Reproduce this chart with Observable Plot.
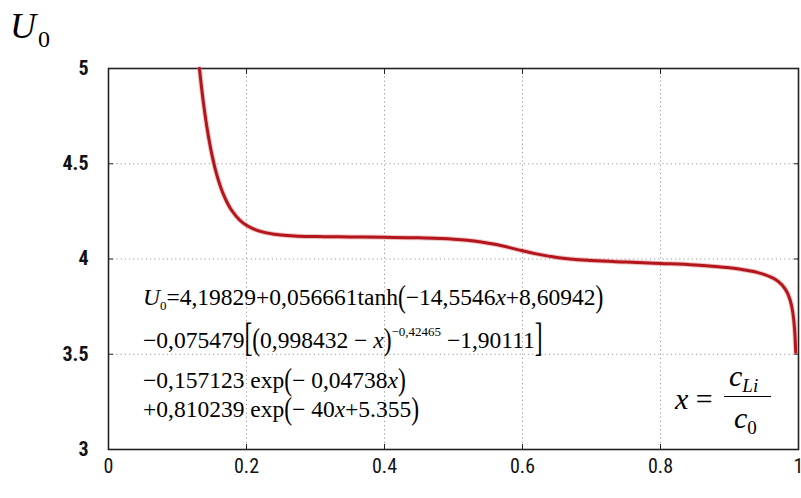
<!DOCTYPE html>
<html>
<head>
<meta charset="utf-8">
<script src="https://cdn.jsdelivr.net/npm/d3@7"></script>
<script src="https://cdn.jsdelivr.net/npm/@observablehq/plot@0.6"></script>
<style>
  body { margin: 0; background: #fff; }
  #wrap { position: relative; width: 801px; height: 498px; background: #fff; overflow: hidden; }
  #wrap svg { position: absolute; left: 0; top: 0; }
  .ann { position: absolute; font-family: "Liberation Serif", "Times New Roman", serif; color: #000; white-space: nowrap; line-height: 1; }
  .ann i { font-style: italic; }
  .p { display: inline-block; transform: scaleY(1.35); transform-origin: 50% 60%; }
  .bk { display: inline-block; transform: scaleY(1.7); transform-origin: 50% 60%; }
  .sub { font-size: 13px; position: relative; top: 5px; }
  .sup { font-size: 13px; position: relative; top: -12px; }
</style>
</head>
<body>
<div id="wrap"></div>
<script>
// Open-circuit potential U0 against the lithium fraction x = cLi / c0
const fraction = [0.1318, 0.135, 0.14, 0.145, 0.15, 0.155, 0.16, 0.165, 0.17, 0.175, 0.18, 0.19, 0.2, 0.21, 0.22, 0.24, 0.25, 0.27, 0.3, 0.35, 0.4, 0.45, 0.5, 0.52, 0.54, 0.56, 0.58, 0.6, 0.62, 0.65, 0.7, 0.75, 0.8, 0.85, 0.9, 0.92, 0.94, 0.95, 0.96, 0.97, 0.98, 0.985, 0.99, 0.993, 0.995, 0.996];
const potential = [5.000, 4.895, 4.755, 4.640, 4.545, 4.468, 4.405, 4.353, 4.311, 4.276, 4.248, 4.205, 4.177, 4.158, 4.145, 4.130, 4.126, 4.121, 4.118, 4.116, 4.114, 4.111, 4.104, 4.098, 4.089, 4.077, 4.061, 4.043, 4.027, 4.008, 3.992, 3.984, 3.977, 3.969, 3.954, 3.944, 3.930, 3.919, 3.905, 3.884, 3.846, 3.813, 3.754, 3.684, 3.593, 3.510];
const xTicks = [0, 0.2, 0.4, 0.6, 0.8, 1];
const yTicks = [3, 3.5, 4, 4.5, 5];
const xGrid = [0.2, 0.4, 0.6, 0.8];
const yGrid = [3.5, 4, 4.5];

const curve = fraction.map((x, i) => ({x, u: potential[i]}));

const chart = Plot.plot({
  width: 801,
  height: 498,
  marginLeft: 108,
  marginRight: 3,
  marginTop: 68,
  marginBottom: 49,
  style: {fontFamily: "'Roboto Condensed', 'Liberation Sans', sans-serif", fontSize: "20px", background: "transparent"},
  x: {domain: [0, 1]},
  y: {domain: [3, 5]},
  marks: [
    Plot.gridX(xGrid, {stroke: "#9a9a9a", strokeOpacity: 1, strokeDasharray: "1.2,3"}),
    Plot.gridY(yGrid, {stroke: "#9a9a9a", strokeOpacity: 1, strokeDasharray: "1.2,3"}),
    // tick labels
    Plot.axisX(xTicks, {label: null, tickSize: 0, tickPadding: 9, tickFormat: d => String(d), fill: "#111"}),
    Plot.axisY(yTicks, {label: null, tickSize: 0, tickPadding: 20, tickFormat: d => String(d), fill: "#111", fontWeight: "bold"}),
    // inward tick marks on all four sides
    Plot.axisX(xTicks, {label: null, anchor: "bottom", tickSize: 5, dy: -5, text: null, stroke: "#222"}),
    Plot.axisX(xTicks, {label: null, anchor: "top", tickSize: 5, dy: 5, text: null, stroke: "#222"}),
    Plot.axisY(yTicks, {label: null, anchor: "left", tickSize: 5, dx: 5, text: null, stroke: "#222"}),
    Plot.axisY(yTicks, {label: null, anchor: "right", tickSize: 5, dx: -5, text: null, stroke: "#222"}),
    Plot.frame({stroke: "#222", strokeWidth: 1.6}),
    // curve with a soft halo
    Plot.line(curve, {x: "x", y: "u", curve: "monotone-x", stroke: "#e07a7a", strokeWidth: 5, strokeOpacity: 0.45}),
    Plot.line(curve, {x: "x", y: "u", curve: "monotone-x", stroke: "#b3161c", strokeWidth: 3})
  ]
});

const wrap = document.getElementById("wrap");
wrap.appendChild(chart);

wrap.insertAdjacentHTML("beforeend", `
  <div class="ann" style="left:10px;top:8px;font-size:36px"><i>U</i><span style="font-size:24px;position:relative;top:9px;left:2px">0</span></div>
  <div class="ann" style="left:143px;top:286px;font-size:23.5px"><i>U</i><span class="sub">0</span>=4,19829+0,056661tanh<span class="p">(</span>−14,5546<i>x</i>+8,60942<span class="p">)</span></div>
  <div class="ann" style="left:143px;top:329px;font-size:23.5px">−0,075479<span class="bk">[</span><span class="p">(</span>0,998432 − <i>x</i><span class="p">)</span><span class="sup">−0,42465</span> −1,90111<span class="bk">]</span></div>
  <div class="ann" style="left:143px;top:369px;font-size:23.5px">−0,157123 exp<span class="p">(</span>− 0,04738<i>x</i><span class="p">)</span></div>
  <div class="ann" style="left:143px;top:398px;font-size:23.5px">+0,810239 exp<span class="p">(</span>− 40<i>x</i>+5.355<span class="p">)</span></div>
  <div class="ann" style="left:675px;top:384px;font-size:30px"><i>x</i> =</div>
  <div class="ann" style="left:729px;top:361px;font-size:30px"><i>c</i><span style="font-size:19px;font-style:italic;position:relative;top:6px">Li</span></div>
  <div class="ann" style="left:724px;top:396px;width:47px;border-top:1.6px solid #000"></div>
  <div class="ann" style="left:734px;top:403px;font-size:30px"><i>c</i><span style="font-size:19px;position:relative;top:6px">0</span></div>
`);
</script>
</body>
</html>
